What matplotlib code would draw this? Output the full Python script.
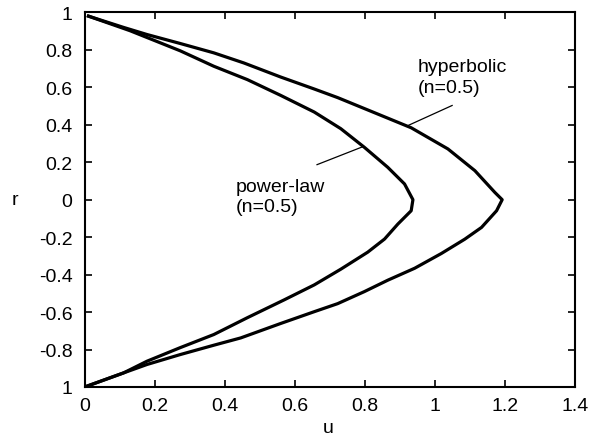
# Velocity profiles, power-law vs hyperbolic fluid (n=0.5)

import matplotlib
matplotlib.use("Agg")
import matplotlib.pyplot as plt

plt.rcParams['font.family'] = ['Liberation Sans', 'DejaVu Sans']

# %%
# Values

# power-law (n=0.5), top to bottom
power_u = [0.01, 0.129, 0.177, 0.272, 0.368, 0.464, 0.559, 0.655, 0.731, 0.798, 0.865, 0.913, 0.937,
           0.932, 0.894, 0.856, 0.808, 0.731, 0.655, 0.569, 0.464, 0.368, 0.272, 0.177, 0.11, 0.005]
power_r = [0.98, 0.902, 0.866, 0.795, 0.7125, 0.641, 0.557, 0.468, 0.379, 0.28, 0.173, 0.084, 0.0,
           -0.059, -0.13, -0.21, -0.28, -0.371, -0.455, -0.535, -0.63, -0.72, -0.79, -0.8625, -0.925, -0.996]

# hyperbolic (n=0.5), top to bottom
hyper_u = [0.01, 0.11, 0.177, 0.272, 0.368, 0.454, 0.559, 0.655, 0.722, 0.846, 0.932, 1.037, 1.114, 1.171, 1.192,
           1.176, 1.133, 1.085, 1.018, 0.942, 0.865, 0.798, 0.722, 0.655, 0.559, 0.445, 0.368, 0.272, 0.177, 0.11, 0.005]
hyper_r = [0.98, 0.92, 0.882, 0.834, 0.784, 0.73, 0.655, 0.591, 0.545, 0.45, 0.384, 0.271, 0.155, 0.039, 0.0,
           -0.059, -0.148, -0.211, -0.2875, -0.366, -0.43, -0.491, -0.555, -0.598, -0.661, -0.738, -0.777, -0.827, -0.88, -0.925, -0.996]

x_ticks = [0, 0.2, 0.4, 0.6, 0.8, 1, 1.2, 1.4]
x_labels = ["0", "0.2", "0.4", "0.6", "0.8", "1", "1.2", "1.4"]
y_ticks = [1, 0.8, 0.6, 0.4, 0.2, 0, -0.2, -0.4, -0.6, -0.8, -1]
y_labels = ["1", "0.8", "0.6", "0.4", "0.2", "0", "-0.2", "-0.4", "-0.6", "-0.8", "1"]

# %%
fig = plt.figure(figsize=(5.98, 4.39), dpi=100)
ax = fig.add_axes([0.1421, 0.1162, 0.8194, 0.8533])

ax.plot(power_u, power_r, color='black', lw=2.3)
ax.plot(hyper_u, hyper_r, color='black', lw=2.3)

# labels with leader lines
ax.plot([1.049, 0.923], [0.503, 0.396], color='black', lw=0.9)
ax.text(0.951, 0.655, "hyperbolic\n(n=0.5)", fontsize=14, va='center', ha='left', linespacing=1.25)
ax.plot([0.663, 0.794], [0.187, 0.283], color='black', lw=0.9)
ax.text(0.431, 0.019, "power-law\n(n=0.5)", fontsize=14, va='center', ha='left', linespacing=1.25)

ax.set_xlim(0, 1.4)
ax.set_ylim(-1, 1)
ax.set_xticks(x_ticks)
ax.set_xticklabels(x_labels)
ax.set_yticks(y_ticks)
ax.set_yticklabels(y_labels)
ax.tick_params(axis='both', direction='in', top=True, right=True, length=5, width=1.2, labelsize=14)
ax.tick_params(axis='y', pad=9)
ax.tick_params(axis='x', pad=7)
for s in ax.spines.values():
    s.set_linewidth(1.5)

ax.set_xlabel("u", fontsize=14, va='center')
ax.xaxis.set_label_coords(0.496, -0.107)
ax.set_ylabel("r", fontsize=14, rotation=0, va='center', ha='center')
ax.yaxis.set_label_coords(-0.143, 0.5)

fig.savefig("out.png", dpi=100)
